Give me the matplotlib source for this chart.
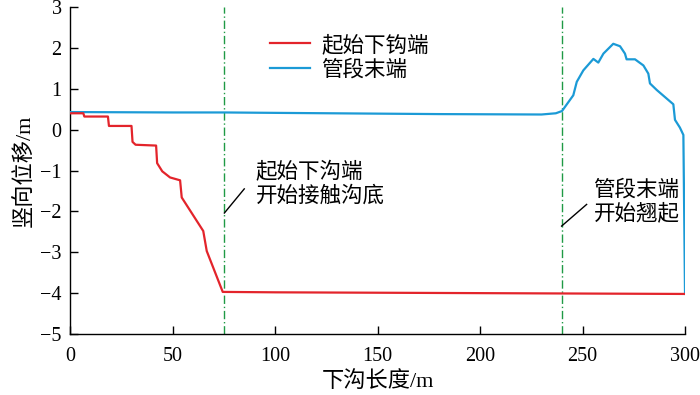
import matplotlib
matplotlib.use("Agg")
import matplotlib.pyplot as plt

# Red: start of trench (起始下钩端)
red_x = [0, 6.5, 7, 18.5, 19, 30, 30.5, 32, 42, 42.5, 45, 48.8, 53.7, 54.5, 65, 66.7, 74.5, 100, 200, 300]
red_y = [0.40, 0.40, 0.32, 0.32, 0.09, 0.09, -0.30, -0.37, -0.39, -0.82, -1.02, -1.17, -1.24, -1.66, -2.48, -2.97, -3.97, -3.98, -4.0, -4.02]

# Blue: pipe end (管段末端)
blue_x = [0, 50, 75, 100, 180, 230, 237, 240, 245.5, 247.2, 250.4, 255.3, 257.7, 260.2, 265, 268.3,
          270.7, 271.5, 275.6, 279.7, 282.1, 282.9, 286.2, 294.3, 295.1, 297.5, 299.2, 300]
blue_y = [0.43, 0.42, 0.42, 0.41, 0.38, 0.37, 0.40, 0.455, 0.84, 1.17, 1.45, 1.73, 1.64, 1.86, 2.10, 2.04,
          1.86, 1.72, 1.72, 1.57, 1.37, 1.13, 0.97, 0.62, 0.24, 0.05, -0.13, -4.02]

vlines_x = [75, 240]
xticks = [0, 50, 100, 150, 200, 250, 300]
yticks = [-5, -4, -3, -2, -1, 0, 1, 2, 3]

FAM = ['Liberation Serif', 'Noto Sans CJK SC']
plt.rcParams['font.family'] = FAM
plt.rcParams['axes.unicode_minus'] = True

fig = plt.figure(figsize=(7, 3.95), dpi=100)
ax = fig.add_axes([0.1, 0.1544, 0.8786, 0.8279])

ax.plot(blue_x, blue_y, color='#1b9ad6', lw=1.6, label='管段末端', zorder=3)
ax.plot(red_x, red_y, color='#e3242b', lw=1.6, label='起始下钩端', zorder=4)
for vx in vlines_x:
    ax.axvline(vx, color='#1f9a45', lw=1.0, ls=(0, (6, 2, 1, 2)), zorder=2)

ax.set_xlim(0, 300)
ax.set_ylim(-5, 3)
ax.set_xticks(xticks)
ax.set_yticks(yticks)
ax.set_yticklabels(['−5', '−4', '−3', '−2', '−1', '0', '1', '2', '3'])
ax.tick_params(direction='in', length=6, width=1.0, labelsize=14.5)
ax.tick_params(axis='x', pad=9)
ax.tick_params(axis='y', pad=6)
for s in ['top', 'right']:
    ax.spines[s].set_visible(False)
for s in ['left', 'bottom']:
    ax.spines[s].set_linewidth(1.0)

ax.set_xlabel('下沟长度/m', fontsize=16, labelpad=4)
ax.set_ylabel('竖向位移/m', fontsize=16, labelpad=4)

handles, labels = ax.get_legend_handles_labels()
ax.legend(handles[::-1], labels[::-1], loc='upper left', bbox_to_anchor=(0.3, 0.96),
          frameon=False, fontsize=15.5, handlelength=1.9, handletextpad=0.5,
          labelspacing=0.2, borderaxespad=0.3)

ax.text(90.5, -0.80, '起始下沟端\n开始接触沟底', fontsize=15.5, va='top', ha='left', linespacing=1.15)
ax.plot([75.3, 85], [-2.04, -1.45], color='black', lw=1.0)
ax.text(255.3, -1.24, '管段末端\n开始翘起', fontsize=15.5, va='top', ha='left', linespacing=1.15)
ax.plot([239.8, 252], [-2.36, -1.83], color='black', lw=1.0)

fig.savefig('out.png', dpi=100)
